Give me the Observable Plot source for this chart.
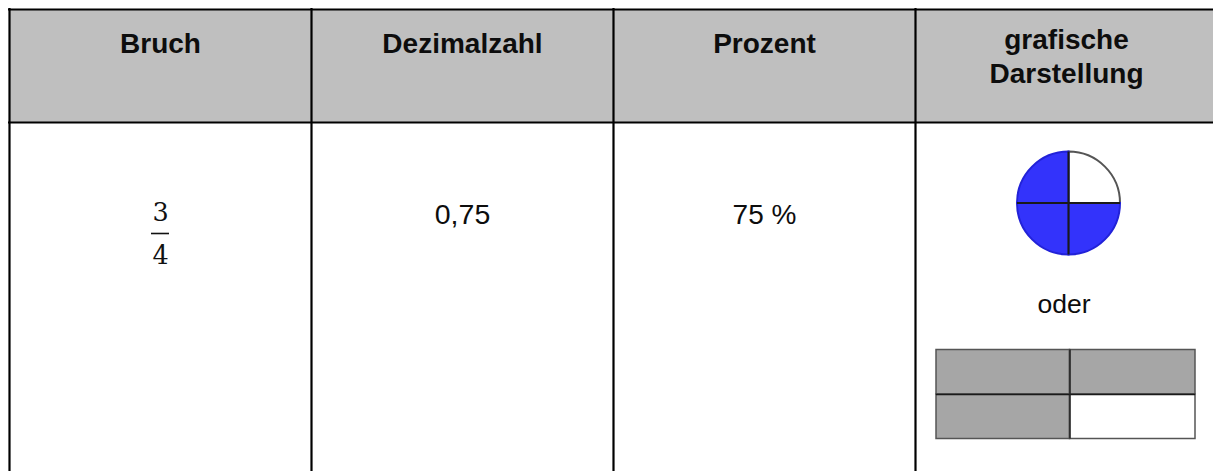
<!DOCTYPE html>
<html>
<head>
<meta charset="utf-8">
<script src="https://cdn.jsdelivr.net/npm/d3@7"></script>
<script src="https://cdn.jsdelivr.net/npm/@observablehq/plot@0.6"></script>
<style>
  html, body { margin: 0; padding: 0; background: #fff; }
  #chart svg { display: block; }
</style>
</head>
<body>
<div id="chart"></div>
<script>
// ---- data ----
const headers = ["Bruch", "Dezimalzahl", "Prozent", "grafische\nDarstellung"];
const numerator = "3";
const denominator = "4";
const decimalValue = "0,75";
const percentValue = "75 %";
const orWord = "oder";
const pieQuarters = [0, 1, 1, 1];      // clockwise from 12 o'clock: 1 = shaded
const gridCells = [1, 1, 1, 0];        // row-major 2x2: 1 = shaded

// ---- layout (pixel space) ----
const W = 1213, H = 471;
const colEdges = [9, 311, 613, 915, 1217];
const centers = colEdges.slice(0, 4).map((e, i) => (e + colEdges[i + 1]) / 2);
const topY = 9, headY = 122, bottomY = 480;
const headerBaseline = [52.5, 52.5, 52.5, 82];
const bodyFont = "Liberation Sans, Arial, Helvetica, sans-serif";

const pie = {cx: 1068.5, cy: 203, r: 51.5};
const grid = {x0: 936, x1: 1069.5, x2: 1195, y0: 349.5, y1: 394, y2: 438.5};

const cellRects = gridCells.map((v, i) => {
  const r = Math.floor(i / 2), c = i % 2;
  return {
    x1: c ? grid.x1 : grid.x0, x2: c ? grid.x2 : grid.x1,
    y1: r ? grid.y1 : grid.y0, y2: r ? grid.y2 : grid.y1,
    shaded: v
  };
});

function pieMark(index, scales) {
  const cx = scales.x(pie.cx), cy = scales.y(pie.cy);
  const r = scales.x(pie.cx + pie.r) - cx;
  const g = d3.create("svg:g").attr("transform", `translate(${cx},${cy})`);
  const arc = d3.arc().innerRadius(0).outerRadius(r);
  pieQuarters.forEach((v, i) => {
    const a0 = i * Math.PI / 2, a1 = (i + 1) * Math.PI / 2;
    g.append("path")
      .attr("d", arc({startAngle: a0, endAngle: a1}))
      .attr("fill", v ? "#3333fb" : "#ffffff")
      .attr("stroke", v ? "#2222d8" : "#555555")
      .attr("stroke-width", 2);
  });
  g.append("line").attr("x1", -r).attr("x2", r).attr("y1", 0).attr("y2", 0)
    .attr("stroke", "#1a1a1a").attr("stroke-width", 2);
  g.append("line").attr("x1", 0).attr("x2", 0).attr("y1", -r).attr("y2", r)
    .attr("stroke", "#1a1a1a").attr("stroke-width", 2);
  return g.node();
}

const chart = Plot.plot({
  width: W,
  height: H,
  margin: 0,
  x: {domain: [0, W], range: [0, W], axis: null},
  y: {domain: [0, H], range: [0, H], axis: null},
  style: {fontFamily: bodyFont, background: "#fff", color: "#111", overflow: "hidden"},
  marks: [
    // header background
    Plot.rect([0], {x1: colEdges[0], x2: colEdges[4], y1: topY, y2: headY, fill: "#bfbfbf"}),
    // header text
    Plot.text(headers, {
      x: (d, i) => centers[i], y: (d, i) => headerBaseline[i], text: d => d,
      lineAnchor: "bottom", lineHeight: 1.18, fontSize: 28, fontWeight: "bold",
      fill: "#0d0d0d", fontFamily: bodyFont
    }),
    // fraction
    Plot.text([numerator], {x: centers[0], y: 220, text: d => d, lineAnchor: "bottom",
      fontSize: 25.5, fontFamily: "DejaVu Serif, serif", fill: "#111"}),
    Plot.ruleY([233], {x1: centers[0] - 9, x2: centers[0] + 9, stroke: "#111", strokeWidth: 1.6}),
    Plot.text([denominator], {x: centers[0], y: 263, text: d => d, lineAnchor: "bottom",
      fontSize: 25.5, fontFamily: "DejaVu Serif, serif", fill: "#111"}),
    // decimal and percent
    Plot.text([decimalValue], {x: centers[1], y: 223, text: d => d, lineAnchor: "bottom",
      fontSize: 28.5, fill: "#0d0d0d", fontFamily: bodyFont}),
    Plot.text([percentValue], {x: centers[2], y: 223, text: d => d, lineAnchor: "bottom",
      fontSize: 28, fill: "#0d0d0d", fontFamily: bodyFont}),
    // pie
    pieMark,
    // "oder"
    Plot.text([orWord], {x: 1063.5, y: 312, text: d => d, lineAnchor: "bottom",
      fontSize: 26.5, fill: "#0d0d0d", fontFamily: bodyFont}),
    // grid rectangle
    Plot.rect(cellRects, {x1: "x1", x2: "x2", y1: "y1", y2: "y2",
      fill: d => d.shaded ? "#a6a6a6" : "#ffffff", stroke: "#555", strokeWidth: 1.5}),
    Plot.ruleY([grid.y1], {x1: grid.x0, x2: grid.x2, stroke: "#1a1a1a", strokeWidth: 1.5}),
    Plot.ruleX([grid.x1], {y1: grid.y0, y2: grid.y2, stroke: "#222", strokeWidth: 1.5}),
    // table lines
    Plot.ruleX(colEdges, {y1: topY - 1, y2: bottomY, stroke: "#000", strokeWidth: 2.2}),
    Plot.ruleY([topY, headY], {x1: colEdges[0] - 1, x2: colEdges[4], stroke: "#000", strokeWidth: 2.2})
  ]
});
document.getElementById("chart").appendChild(chart);
</script>
</body>
</html>
